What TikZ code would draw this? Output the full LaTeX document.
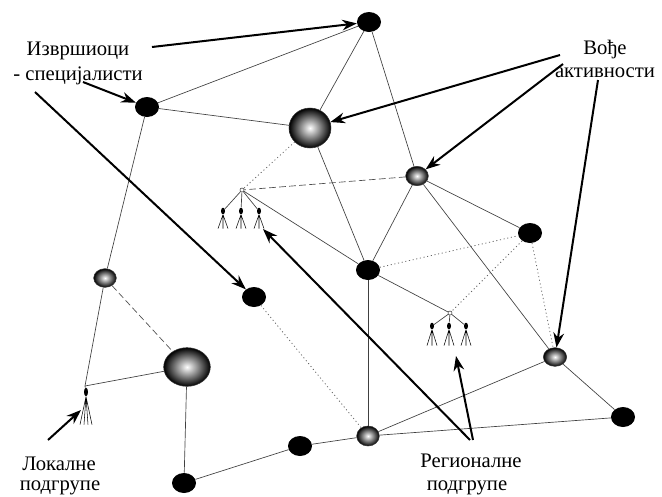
\documentclass[tikz,border=0pt]{standalone}
\usepackage{fontspec}
\newfontfamily\lblfont{Liberation Serif}
\usetikzlibrary{shapes.geometric,arrows.meta}
\begin{document}
\begin{tikzpicture}[x=0.75pt,y=-0.75pt,
  blk/.style={ellipse,fill=black,inner sep=0pt,minimum width=18pt,minimum height=15pt},
  sphere/.style n args={2}{ellipse,inner sep=0pt,minimum width=#1,minimum height=#2,
     inner color=white,outer color=black,draw=black!80,line width=0.4pt},
  hub/.style={circle,draw=black!80,fill=white,inner sep=0pt,minimum size=3pt,line width=0.4pt},
  head/.style={ellipse,fill=black,inner sep=0pt,minimum width=3pt,minimum height=5pt},
  edge/.style={draw=black!75,line width=0.5pt},
  dsh/.style={draw=black!70,line width=0.5pt,dash pattern=on 5pt off 2.5pt},
  dot/.style={draw=black!60,line width=0.6pt,dash pattern=on 0.8pt off 2pt},
  leg/.style={draw=black,line width=0.4pt},
  arr/.style={draw=black,line width=1.5pt,-{Stealth[length=11pt,width=8pt]}},
  lbl/.style={font=\lblfont\fontsize{15.5}{18}\selectfont,inner sep=0pt,anchor=base}
]
\useasboundingbox (0,0) rectangle (662,497);

% black nodes
\node[blk] (T) at (369,22) {};
\node[blk] (A) at (147,107) {};
\node[blk] (B) at (254,297) {};
\node[blk] (C) at (368,270) {};
\node[blk] (D) at (530,233) {};
\node[blk] (E) at (623,417) {};
\node[blk] (F) at (300,446) {};
\node[blk] (G) at (184,483) {};

% shaded nodes
\node[sphere={31.5pt}{30pt}] (Q1) at (310,128) {};
\node[sphere={35pt}{29pt}] (Q2) at (187,367) {};
\node[sphere={17pt}{14.5pt}] (S1) at (417,176) {};
\node[sphere={17pt}{14pt}] (S2) at (105,278) {};
\node[sphere={17.5pt}{14pt}] (S3) at (555,357) {};
\node[sphere={17pt}{15pt}] (S4) at (368,436) {};

% subgroups
\node[hub] (R1) at (242,190) {};
\node[head] (R1a) at (223,211) {};
\node[head] (R1b) at (241,211) {};
\node[head] (R1c) at (259,211) {};
\node[hub] (R2) at (450,313) {};
\node[head] (R2a) at (432,326) {};
\node[head] (R2b) at (449,326) {};
\node[head] (R2c) at (466,326) {};
\coordinate (L) at (85,386);
\node[head,minimum height=6.5pt] (La) at (86,392) {};

% solid edges
\draw[edge] (T) -- (A);
\draw[edge] (T) -- (Q1);
\draw[edge] (T) -- (S1);
\draw[edge] (A) -- (Q1);
\draw[edge] (A) -- (S2);
\draw[edge] (Q1) -- (C);
\draw[edge] (R1) -- (C);
\draw[edge] (S1) -- (C);
\draw[edge] (S1) -- (D);
\draw[edge] (S1) -- (S3);
\draw[edge] (C) -- (R2);
\draw[edge] (C) -- (S4);
\draw[edge] (S4) -- (S3);
\draw[edge] (S4) -- (F);
\draw[edge] (F) -- (G);
\draw[edge] (S4) -- (E);
\draw[edge] (S3) -- (E);
\draw[edge] (Q2) -- (G);
\draw[edge] (Q2) -- (L);
\draw[edge] (S2) -- (L);
% dashed / dotted
\draw[dsh] (S1) -- (R1);
\draw[dsh] (S2) -- (Q2);
\draw[dot] (Q1) -- (R1);
\draw[dot] (C) -- (D);
\draw[dot] (D) -- (R2);
\draw[dot] (D) -- (S3);
\draw[dot] (B) -- (S4);

% subgroup trees
\foreach \h in {R1a,R1b,R1c}{
  \draw[edge] (R1) -- (\h);
  \draw[leg] (\h.south) -- ++(-5,14) (\h.south) -- ++(0,14) (\h.south) -- ++(5,14);
}
\foreach \h in {R2a,R2b,R2c}{
  \draw[edge] (R2) -- (\h);
  \draw[leg] (\h.south) -- ++(-5,16) (\h.south) -- ++(0,16) (\h.south) -- ++(5,16);
}
\draw[edge] (L) -- (La);
\draw[leg] (La.south) -- ++(-6,28) (La.south) -- ++(-2,28) (La.south) -- ++(2,28) (La.south) -- ++(6,28);

% labels
\node[lbl] (t1) at (78,55) {Извршиоци};
\node[lbl] (t2) at (78,80) {- специјалисти};
\node[lbl] (t3) at (605,54) {Вође};
\node[lbl] (t4) at (605,77) {активности};
\node[lbl] (t5) at (59,470) {Локалне};
\node[lbl] (t6) at (60,490) {подгрупе};
\node[lbl] (t7) at (471,467) {Регионалне};
\node[lbl] (t8) at (467,490) {подгрупе};

% arrows
\coordinate (a1) at (152,47);
\coordinate (a2) at (83,82);
\coordinate (a3) at (35,92);
\coordinate (a4) at (560,55);
\coordinate (a5) at (563,64);
\coordinate (a6) at (598,80);
\coordinate (a7) at (470,440);
\coordinate (a8) at (473,440);
\coordinate (a9) at (48,440);
\coordinate (e7) at (263,229);
\coordinate (e8) at (456,356);
\coordinate (e9) at (81,410);
\draw[arr] (a1) -- (T);
\draw[arr] (a2) -- (A);
\draw[arr] (a3) -- (B);
\draw[arr] (a4) -- (Q1);
\draw[arr] (a5) -- (S1);
\draw[arr] (a6) -- (S3);
\draw[arr] (a7) -- (e7);
\draw[arr] (a8) -- (e8);
\draw[arr] (a9) -- (e9);
\end{tikzpicture}
\end{document}
